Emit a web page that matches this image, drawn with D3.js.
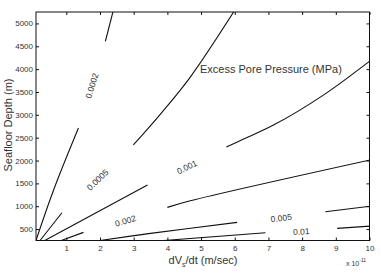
<!DOCTYPE html>
<html>
<head>
  <script src="https://cdnjs.cloudflare.com/ajax/libs/d3/7.8.5/d3.min.js"></script>
  <style>
    body {
      margin: 0;
      background: white;
      font-family: "Liberation Sans", Arial, sans-serif;
    }
    .axis text {
      fill: #333;
      font-size: 8px;
    }
    .contour {
      fill: none;
      stroke: #111;
      stroke-width: 1.1px;
    }
    .clabel {
      fill: #333;
      font-size: 8.5px;
    }
  </style>
</head>
<body>
  <div id="chart"></div>

  <script>
    // contour levels (MPa)
    const levels = ["0.0002", "0.0005", "0.001", "0.002", "0.005", "0.01"];

    // each contour: part below the label, part above it  [dV/dt (1e-11 m/s), depth (m)]
    const seg0002 = [[[0.10, 250], [0.62, 1350], [1.36, 2710]],
                     [[2.16, 4610], [2.40, 5300]]];
    const seg0005 = [[[0.22, 250], [0.87, 857]],
                     [[2.99, 2340], [3.82, 3038], [4.68, 3826], [6.00, 5290]]];
    const seg001  = [[[0.36, 250], [3.41, 1463]],
                     [[5.75, 2294], [6.26, 2469], [7.15, 2775], [8.63, 3432], [10.1, 4230]]];
    const seg002  = [[[0.85, 250], [1.51, 428]],
                     [[4.00, 975], [4.68, 1119], [10.1, 2025]]];
    const seg005  = [[[2.00, 250], [3.50, 406], [6.07, 647]],
                     [[8.69, 879], [10.1, 1008]]];
    const seg01   = [[[3.89, 250], [6.91, 419]],
                     [[9.04, 515], [10.1, 570]]];
    const contours = [seg0002, seg0005, seg001, seg002, seg005, seg01];

    const xTicks = [1, 2, 3, 4, 5, 6, 7, 8, 9, 10];
    const yTicks = [500, 1000, 1500, 2000, 2500, 3000, 3500, 4000, 4500, 5000];

    const width = 381;
    const height = 276;
    const mLeft = 36, mRight = 369.5, mTop = 12, mBottom = 240.5;

    const svg = d3.select("#chart")
      .append("svg")
      .attr("width", width)
      .attr("height", height);

    const x = d3.scaleLinear().domain([0.1, 10]).range([mLeft, mRight]);
    const y = d3.scaleLinear().domain([250, 5250]).range([mBottom, mTop]);

    svg.append("clipPath").attr("id", "plot")
      .append("rect")
      .attr("x", mLeft).attr("y", mTop)
      .attr("width", mRight - mLeft).attr("height", mBottom - mTop);

    // contour lines
    const line = d3.line().x(d => x(d[0])).y(d => y(d[1])).curve(d3.curveCatmullRom);
    const g = svg.append("g").attr("clip-path", "url(#plot)");
    contours.forEach(parts => {
      parts.forEach(p => {
        g.append("path").attr("class", "contour").attr("d", line(p));
      });
    });

    // labels sit in the gap between the two parts
    contours.forEach((parts, i) => {
      const a = parts[0][parts[0].length - 1];
      const b = parts[1][0];
      const ax = x(a[0]), ay = y(a[1]), bx = x(b[0]), by = y(b[1]);
      const cx = (ax + bx) / 2, cy = (ay + by) / 2;
      const ang = Math.atan2(by - ay, bx - ax) * 180 / Math.PI;
      svg.append("text")
        .attr("class", "clabel")
        .attr("text-anchor", "middle")
        .attr("dominant-baseline", "central")
        .attr("transform", `translate(${cx},${cy + 1}) rotate(${ang})`)
        .text(levels[i]);
    });

    // axes, ticks pointing inward
    svg.append("g").attr("class", "axis")
      .attr("transform", `translate(0,${mBottom})`)
      .call(d3.axisBottom(x).tickValues(xTicks).tickSizeInner(-3).tickSizeOuter(0).tickPadding(5))
      .call(a => a.select(".domain").remove());
    svg.append("g").attr("class", "axis")
      .attr("transform", `translate(${mLeft},0)`)
      .call(d3.axisLeft(y).tickValues(yTicks).tickFormat(d3.format("d"))
        .tickSizeInner(-3).tickSizeOuter(0).tickPadding(3))
      .call(a => a.select(".domain").remove());
    svg.append("g").attr("class", "axis")
      .attr("transform", `translate(0,${mTop})`)
      .call(d3.axisTop(x).tickValues(xTicks).tickSizeInner(-3).tickSizeOuter(0).tickFormat(""))
      .call(a => a.select(".domain").remove());
    svg.append("g").attr("class", "axis")
      .attr("transform", `translate(${mRight},0)`)
      .call(d3.axisRight(y).tickValues(yTicks).tickSizeInner(-3).tickSizeOuter(0).tickFormat(""))
      .call(a => a.select(".domain").remove());

    svg.append("rect")
      .attr("x", mLeft).attr("y", mTop)
      .attr("width", mRight - mLeft).attr("height", mBottom - mTop)
      .attr("fill", "none").attr("stroke", "#111").attr("stroke-width", 1);

    svg.selectAll(".axis line").attr("stroke", "#111");

    // titles
    svg.append("text")
      .attr("x", 200).attr("y", 73)
      .attr("fill", "#333").attr("font-size", "11px")
      .text("Excess Pore Pressure (MPa)");

    const xl = svg.append("text")
      .attr("x", 203).attr("y", 264)
      .attr("text-anchor", "middle")
      .attr("fill", "#333").attr("font-size", "11px");
    xl.append("tspan").text("dV");
    xl.append("tspan").attr("font-size", "7px").attr("dy", 3).text("s");
    xl.append("tspan").attr("dy", -3).text("/dt (m/sec)");

    const ex = svg.append("text")
      .attr("x", 346).attr("y", 266)
      .attr("fill", "#333").attr("font-size", "7px");
    ex.append("tspan").text("x 10");
    ex.append("tspan").attr("font-size", "5px").attr("dy", -4).text("-11");

    svg.append("text")
      .attr("transform", `translate(12,125) rotate(-90)`)
      .attr("text-anchor", "middle")
      .attr("fill", "#333").attr("font-size", "11px")
      .text("Seafloor Depth (m)");
  </script>
</body>
</html>
